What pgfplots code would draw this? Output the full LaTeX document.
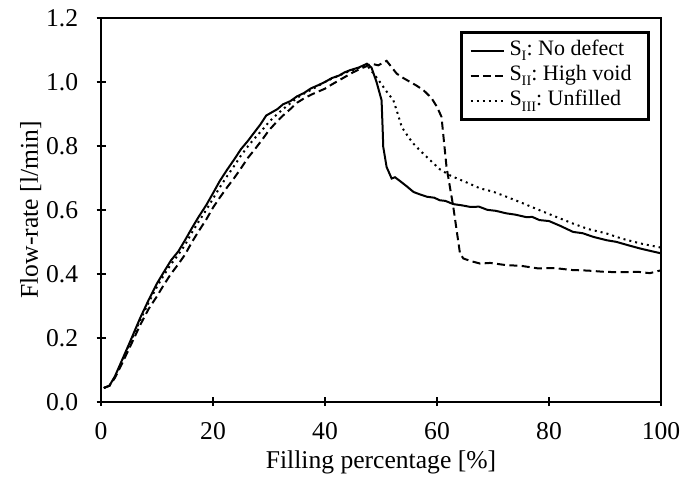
\documentclass[border=0pt]{standalone}
\usepackage{fontspec}
\setmainfont{Liberation Serif}
\usepackage{pgfplots}
\pgfplotsset{compat=1.18}
\newcommand\sub[1]{\raisebox{-2.6pt}{\fontsize{7.2}{8}\selectfont #1}}
\newcommand\entry[1]{\makebox[63pt][l]{#1}}

\begin{document}
\frenchspacing
\fontsize{12.8}{15}\selectfont
\begin{tikzpicture}
\begin{axis}[
  scale only axis, width=280pt, height=191.85pt,
  xmin=0, xmax=100, ymin=0, ymax=1.2,
  xtick={0,20,40,60,80,100},
  ytick={0,0.2,0.4,0.6,0.8,1.0,1.2},
  xtick pos=bottom, ytick pos=left,
  tick align=center, major tick length=4.5pt,
  every tick/.style={black, line width=1.1pt},
  axis line style={line width=1.15pt},
  /pgf/number format/assume math mode=true,
  yticklabel style={/pgf/number format/fixed, /pgf/number format/fixed zerofill, /pgf/number format/precision=1, xshift=-4.7pt},
  xticklabel style={yshift=-3.8pt},
  tick label style={font=\fontsize{12.8}{15}\selectfont},
  label style={font=\fontsize{12.8}{15}\selectfont},
  xlabel={Filling percentage [\%]},
  ylabel={Flow-rate [l/min]},
  xlabel style={at={(axis description cs:0.5,-0.173)}, anchor=base},
  ylabel style={at={(axis description cs:-0.1125,0.5)}, anchor=base},
  legend cell align=left,
  legend style={at={(0.98,0.966)}, anchor=north east, draw=black, line width=1.3pt,
    font=\fontsize{11}{13}\selectfont\frenchspacing, inner xsep=4pt, inner ysep=2.85pt,
    row sep=0pt, column sep=0pt,
    nodes={inner xsep=2.5pt, inner ysep=0.9pt, text height=7.8pt, text depth=3pt}},
  legend image code/.code={\draw[#1] (0cm,0cm) -- (0.58cm,0cm);},
]
\addplot[black, line width=1pt] coordinates {
(0.5,0.043) (1.5,0.05) (2.5,0.08) (3.5,0.12) (5,0.18) (7,0.262) (8.5,0.318) (10,0.37) (11.2,0.405) (12.5,0.442) (13.8,0.47) (15,0.505) (16.2,0.542) (17.5,0.58) (18.8,0.615) (20,0.652) (21.2,0.69) (22.5,0.725) (23.8,0.758) (25,0.79) (26.2,0.815) (27.5,0.845) (28.5,0.868) (29.5,0.895) (30.5,0.905) (31.5,0.915) (32.5,0.93) (33.8,0.94) (35,0.955) (36.2,0.965) (37.5,0.98) (38.8,0.99) (40,1.0) (41.2,1.012) (42.5,1.02) (43.5,1.03) (44.5,1.037) (46,1.045) (47.5,1.057) (48.3,1.045) (49.2,1.0) (50.1,0.943) (50.3,0.85) (50.4,0.797) (51,0.734) (51.9,0.698) (52.5,0.702) (53.4,0.69) (54.5,0.675) (55.8,0.656) (57,0.648) (58.2,0.641) (59.5,0.638) (60.5,0.630) (61.5,0.628) (62.9,0.618) (64.5,0.614) (66,0.609) (67.5,0.61) (69,0.60) (70.5,0.597) (72.4,0.589) (74,0.585) (76,0.577) (77,0.578) (78.3,0.568) (80,0.565) (82,0.55) (84.3,0.531) (86,0.527) (88,0.515) (90.3,0.505) (92,0.50) (94,0.49) (96.3,0.479) (98,0.472) (100,0.464)
};
\addlegendentry{\entry{S\sub{I}: No defect}}
\addplot[black, line width=1pt, dash pattern=on 4pt off 2.2pt] coordinates {
(0.5,0.043) (1.5,0.05) (2.5,0.075) (3.5,0.11) (5,0.165) (7,0.24) (8.5,0.29) (10,0.33) (11.2,0.365) (12.5,0.40) (13.8,0.43) (15,0.46) (16.2,0.498) (17.5,0.535) (18.8,0.57) (20,0.607) (21.2,0.638) (22.5,0.67) (23.8,0.70) (25,0.73) (26.2,0.762) (27.5,0.79) (28.8,0.82) (30,0.849) (31.2,0.872) (32.5,0.895) (33.8,0.915) (35,0.935) (36.2,0.948) (37.5,0.96) (38.8,0.97) (40,0.979) (41.2,0.992) (42.5,1.005) (43.8,1.018) (45,1.03) (46.2,1.04) (47.5,1.05) (48.3,1.057) (49.5,1.052) (51,1.066) (52.8,1.026) (54,1.012) (55.2,1.0) (56.4,0.988) (57.6,0.974) (59,0.95) (60,0.922) (60.8,0.891) (61.7,0.734) (62.9,0.61) (64.1,0.464) (64.7,0.448) (66,0.44) (67.7,0.432) (69.5,0.434) (72.4,0.427) (75,0.425) (78,0.417) (81,0.418) (84,0.412) (87,0.41) (90,0.406) (93,0.405) (96,0.406) (98,0.402) (100,0.411)
};
\addlegendentry{\entry{S\sub{II}: High void}}
\addplot[black, line width=1pt, dash pattern=on 1pt off 2pt] coordinates {
(0.5,0.043) (1.5,0.05) (2.5,0.077) (3.5,0.115) (5,0.175) (7,0.255) (8.5,0.31) (10,0.36) (11.2,0.395) (12.5,0.43) (13.8,0.46) (15,0.49) (16.2,0.528) (17.5,0.565) (18.8,0.6) (20,0.635) (21.2,0.67) (22.5,0.705) (23.8,0.738) (25,0.77) (26.2,0.798) (27.5,0.825) (28.8,0.85) (30,0.875) (31.2,0.895) (32.5,0.915) (33.8,0.933) (35,0.95) (36.2,0.963) (37.5,0.975) (38.8,0.988) (40,1.0) (41.2,1.01) (42.5,1.02) (43.8,1.03) (45,1.037) (46.2,1.045) (47.5,1.052) (48.5,1.03) (49.8,1.0) (51,0.97) (52.2,0.943) (53,0.9) (53.7,0.859) (55,0.825) (55.8,0.807) (57,0.785) (58.8,0.755) (60.5,0.727) (62.3,0.708) (64,0.695) (65,0.688) (67.7,0.667) (70,0.657) (72.4,0.641) (75,0.623) (78.3,0.599) (81,0.58) (84.3,0.557) (87,0.54) (90.3,0.526) (93,0.51) (96.3,0.495) (100,0.482)
};
\addlegendentry{\entry{S\sub{III}: Unfilled}}
\coordinate (sw) at (rel axis cs:0,0);
\coordinate (ne) at (rel axis cs:1,1);
\end{axis}
\path ([xshift=-50.5pt,yshift=-38.65pt]sw) rectangle ([xshift=18.5pt,yshift=9pt]ne);
\end{tikzpicture}
\end{document}
